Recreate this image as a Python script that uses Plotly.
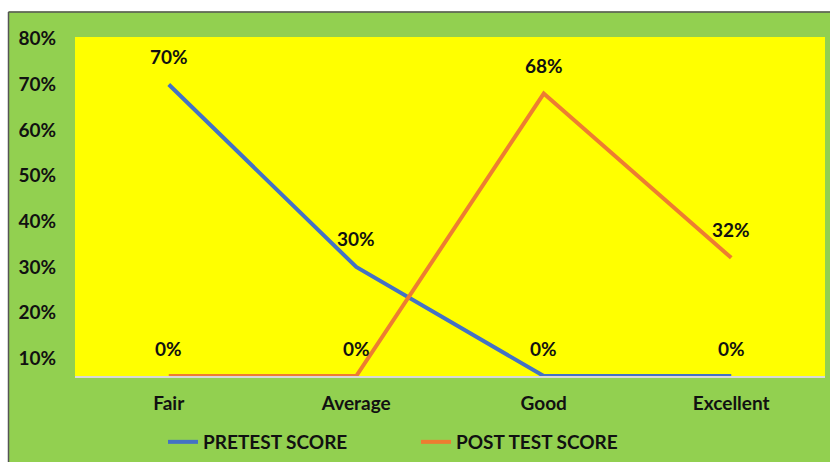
import numpy as np
import plotly.graph_objects as go

categories = ["Fair", "Average", "Good", "Excellent"]
pretest = [0.70, 0.30, 0.00, 0.00]
posttest = [0.00, 0.00, 0.68, 0.32]
y_ticks = [0.1, 0.2, 0.3, 0.4, 0.5, 0.6, 0.7, 0.8]

Y_MIN, Y_MAX = 0.061, 0.804
BLUE, ORANGE = "#4472C4", "#ED7D31"
GREEN, YELLOW = "#92D050", "#FFFF00"
FONT = dict(family="Lato, 'DejaVu Sans', sans-serif", size=19, color="#111111", weight="bold")

fig = go.Figure()
# values at 0% sit on the axis floor, as in the original chart
fig.add_trace(go.Scatter(x=categories, y=np.maximum(pretest, Y_MIN), mode="lines",
                         name="PRETEST SCORE", line=dict(color=BLUE, width=4), cliponaxis=False))
fig.add_trace(go.Scatter(x=categories, y=np.maximum(posttest, Y_MIN), mode="lines",
                         name="POST TEST SCORE", line=dict(color=ORANGE, width=4), cliponaxis=False))

annotations = []
for series in (pretest, posttest):
    for c, v in zip(categories, series):
        annotations.append(dict(x=c, y=max(v, Y_MIN), text=f"{v:.0%}", showarrow=False,
                                yshift=28, font=FONT))

PX = lambda p: (p - 75) / 750
PY = lambda p: (376 - p) / 339
shapes = [
    dict(type="rect", xref="paper", yref="paper", x0=-0.2, x1=1.1, y0=PY(11.5), y1=1.2,
         fillcolor="white", line_width=0, layer="below"),
    dict(type="rect", xref="paper", yref="paper", x0=-0.2, x1=PX(8.5), y0=-0.4, y1=1.2,
         fillcolor="white", line_width=0, layer="below"),
    dict(type="line", xref="paper", yref="paper", x0=PX(8.5), x1=1.1, y0=PY(12), y1=PY(12),
         line=dict(color="#555555", width=1.5), layer="below"),
    dict(type="line", xref="paper", yref="paper", x0=PX(8.5), x1=PX(8.5), y0=-0.4, y1=PY(12),
         line=dict(color="#555555", width=1.5), layer="below"),
]

fig.update_layout(
    width=830, height=462,
    margin=dict(l=75, r=5, t=37, b=86, autoexpand=False),
    paper_bgcolor=GREEN, plot_bgcolor=YELLOW,
    font=FONT,
    showlegend=True,
    legend=dict(orientation="h", x=PX(163), y=PY(442), xanchor="left", yanchor="middle",
                bgcolor="rgba(0,0,0,0)", font=FONT, entrywidth=208, itemwidth=30),
    annotations=annotations,
    shapes=shapes,
)
fig.update_xaxes(range=[-0.5, 3.5], showgrid=False, showline=True, linecolor="#D9D9D9", linewidth=1.5,
                 ticks="", tickfont=FONT, fixedrange=True, zeroline=False, ticklabelstandoff=9,
                 automargin=False)
fig.update_yaxes(range=[Y_MIN, Y_MAX], tickvals=y_ticks, tickformat=".0%", showgrid=False,
                 showline=False, zeroline=False, ticks="", tickfont=FONT, ticklabelstandoff=18,
                 automargin=False, fixedrange=True)

fig.write_html("out.html", config={"displayModeBar": False},
               post_script="document.body.style.margin='0';")
